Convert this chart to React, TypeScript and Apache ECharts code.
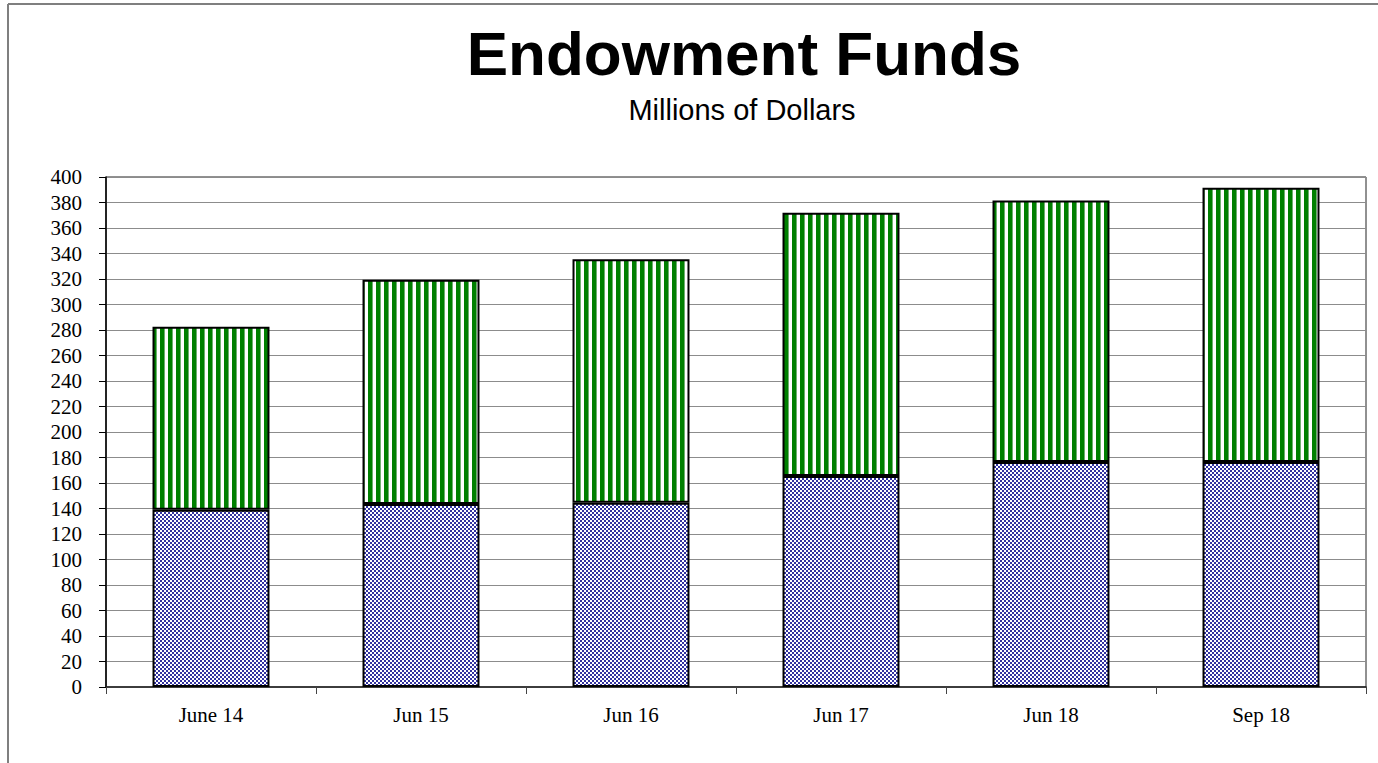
import React, { useEffect, useRef } from "react";
import * as echarts from "echarts";

const categories = ["June 14", "Jun 15", "Jun 16", "Jun 17", "Jun 18", "Sep 18"];
const lowerValues = [139, 143.5, 144.5, 165.5, 176.5, 176.5];
const upperValues = [143.5, 176, 191, 206.5, 205, 215];
const titleText = "Endowment Funds";
const subtitleText = "Millions of Dollars";

function checkerPattern(): string {
  const c = document.createElement("canvas");
  c.width = 4;
  c.height = 4;
  const ctx = c.getContext("2d")!;
  ctx.fillStyle = "#ffffff";
  ctx.fillRect(0, 0, 4, 4);
  ctx.fillStyle = "#33339f";
  ctx.fillRect(0, 0, 2, 2);
  ctx.fillRect(2, 2, 2, 2);
  return c.toDataURL();
}

function stripePattern(): string {
  const c = document.createElement("canvas");
  c.width = 8;
  c.height = 8;
  const ctx = c.getContext("2d")!;
  ctx.fillStyle = "#ffffff";
  ctx.fillRect(0, 0, 8, 8);
  ctx.fillStyle = "#008000";
  ctx.fillRect(0, 0, 4, 8);
  ctx.fillStyle = "#6fb06f";
  ctx.fillRect(4, 0, 1, 8);
  return c.toDataURL();
}

export default function App() {
  const ref = useRef<HTMLDivElement>(null);
  useEffect(() => {
    if (!ref.current) return;
    const chart = echarts.init(ref.current, undefined, { renderer: "svg" });
    const checker = checkerPattern();
    const stripes = stripePattern();
    const serif = "'Liberation Serif', 'Times New Roman', serif";
    const sans = "'Liberation Sans', Arial, sans-serif";
    chart.setOption({
      animation: false,
      backgroundColor: "#ffffff",
      graphic: [
        { type: "line", shape: { x1: 8, y1: 4, x2: 1378, y2: 4 }, style: { stroke: "#7f7f7f", lineWidth: 2 } },
        { type: "line", shape: { x1: 8, y1: 4, x2: 8, y2: 763 }, style: { stroke: "#7f7f7f", lineWidth: 2 } },
        {
          type: "text",
          x: 744,
          y: 53,
          style: { text: titleText, font: `bold 62px ${sans}`, fill: "#000", align: "center", verticalAlign: "middle" },
        },
        {
          type: "text",
          x: 742,
          y: 110,
          style: { text: subtitleText, font: `29px ${sans}`, fill: "#000", align: "center", verticalAlign: "middle" },
        },
      ],
      grid: {
        left: 106,
        right: 12,
        top: 177,
        bottom: 76,
        show: true,
        borderColor: "#222",
        borderWidth: 1,
        backgroundColor: "transparent",
      },
      xAxis: {
        type: "category",
        data: categories,
        axisLine: { lineStyle: { color: "#222", width: 1.5 } },
        axisTick: { show: true, length: 7, lineStyle: { color: "#444" } },
        axisLabel: { color: "#000", fontFamily: serif, fontSize: 21, margin: 17 },
        splitLine: { show: false },
      },
      yAxis: {
        type: "value",
        min: 0,
        max: 400,
        interval: 20,
        axisLine: { show: true, lineStyle: { color: "#000", width: 1.5 } },
        axisTick: { show: true, length: 7, lineStyle: { color: "#000" } },
        axisLabel: { color: "#000", fontFamily: serif, fontSize: 21, margin: 24 },
        splitLine: { show: true, lineStyle: { color: "#8c8c8c", width: 1 } },
      },
      series: [
        {
          name: "Lower",
          type: "bar",
          stack: "total",
          data: lowerValues,
          barWidth: "55.7%",
          itemStyle: {
            color: { image: checker, repeat: "repeat", imageWidth: 4, imageHeight: 4 },
            borderColor: "#000",
            borderWidth: 2,
          },
        },
        {
          name: "Upper",
          type: "bar",
          stack: "total",
          data: upperValues,
          barWidth: "55.7%",
          itemStyle: {
            color: { image: stripes, repeat: "repeat", imageWidth: 8, imageHeight: 8 },
            borderColor: "#000",
            borderWidth: 2,
          },
        },
      ],
    });
    return () => chart.dispose();
  }, []);
  return (
    <div
      ref={ref}
      style={{ position: "fixed", left: 0, top: 0, width: 1378, height: 763, background: "#fff" }}
    />
  );
}
